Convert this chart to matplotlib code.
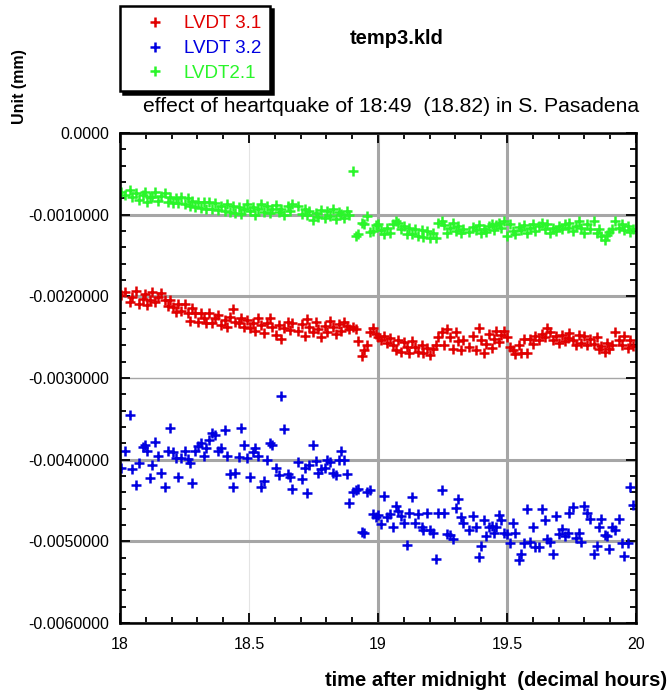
import matplotlib
matplotlib.use("Agg")
import matplotlib.pyplot as plt
from matplotlib.ticker import FuncFormatter, MultipleLocator

plt.rcParams['font.family'] = ['Liberation Sans', 'DejaVu Sans']

# sample times (decimal hours after midnight)
hours = [18.005, 18.021, 18.038, 18.047, 18.063, 18.072, 18.089, 18.096, 18.106, 18.115,
         18.125, 18.137, 18.147, 18.160, 18.173, 18.186, 18.192, 18.205, 18.218, 18.225,
         18.238, 18.251, 18.264, 18.270, 18.279, 18.292, 18.302, 18.313, 18.326, 18.335,
         18.344, 18.357, 18.370, 18.380, 18.393, 18.406, 18.416, 18.425, 18.438, 18.447,
         18.461, 18.470, 18.481, 18.494, 18.504, 18.516, 18.525, 18.535, 18.548, 18.558,
         18.571, 18.580, 18.589, 18.606, 18.615, 18.625, 18.636, 18.651, 18.658, 18.667,
         18.691, 18.704, 18.717, 18.726, 18.734, 18.747, 18.760, 18.769, 18.778, 18.795,
         18.804, 18.814, 18.824, 18.837, 18.850, 18.857, 18.868, 18.879, 18.889, 18.902,
         18.915, 18.924, 18.937, 18.946, 18.959, 18.969, 18.979, 18.992, 19.001, 19.010,
         19.023, 19.036, 19.047, 19.057, 19.070, 19.079, 19.088, 19.101, 19.111, 19.121,
         19.133, 19.143, 19.156, 19.169, 19.176, 19.189, 19.202, 19.214, 19.225, 19.234,
         19.247, 19.256, 19.269, 19.279, 19.292, 19.302, 19.311, 19.320, 19.331, 19.354,
         19.367, 19.380, 19.390, 19.400, 19.410, 19.419, 19.429, 19.442, 19.448, 19.457,
         19.468, 19.478, 19.487, 19.500, 19.513, 19.522, 19.532, 19.545, 19.556, 19.565,
         19.578, 19.590, 19.600, 19.610, 19.625, 19.636, 19.646, 19.655, 19.668, 19.677,
         19.690, 19.700, 19.713, 19.723, 19.736, 19.742, 19.754, 19.767, 19.778, 19.788,
         19.797, 19.810, 19.823, 19.836, 19.849, 19.855, 19.866, 19.879, 19.888, 19.897,
         19.907, 19.920, 19.933, 19.946, 19.955, 19.968, 19.978, 19.987]

# readings in units of 1e-4 mm
lvdt_31 = [-19.9, -19.5, -20.7, -20.1, -19.3, -20.9, -20.3, -19.7, -21.1, -20.5,
           -19.5, -20.7, -20.1, -19.6, -20.4, -21.2, -20.5, -21.3, -21.9, -20.9,
           -21.8, -21.0, -22.0, -23.0, -21.4, -22.1, -23.2, -22.0, -22.7, -23.3,
           -22.1, -23.3, -22.7, -22.3, -23.5, -22.9, -23.7, -22.5, -21.6, -23.1,
           -23.3, -22.7, -23.7, -22.9, -23.9, -23.3, -24.3, -22.7, -23.5, -24.5,
           -23.3, -22.7, -23.7, -24.7, -23.5, -25.2, -23.9, -23.1, -24.1, -23.3,
           -24.2, -23.4, -24.8, -22.8, -23.8, -24.4, -23.2, -24.0, -25.0, -23.6,
           -24.4, -23.0, -23.8, -24.6, -23.4, -24.2, -23.2, -23.6, -24.0, -23.8,
           -24.0, -25.5, -27.3, -26.6, -25.9, -24.4, -23.9, -24.6, -25.0, -25.4,
           -24.9, -25.7, -25.1, -26.0, -26.6, -25.4, -26.8, -25.6, -26.2, -27.0,
           -25.5, -26.2, -26.8, -25.9, -26.9, -26.3, -27.2, -26.5, -25.9, -25.0,
           -24.4, -25.9, -24.0, -25.0, -26.4, -24.4, -25.5, -26.6, -25.3, -26.2,
           -24.8, -26.6, -23.9, -25.4, -27.0, -25.8, -24.6, -26.3, -25.2, -24.3,
           -25.6, -24.7, -24.2, -25.0, -26.2, -26.6, -27.1, -26.0, -26.9, -25.2,
           -27.0, -25.2, -25.8, -24.8, -25.4, -24.6, -25.0, -23.9, -24.4, -25.3,
           -24.9, -25.7, -24.7, -25.5, -25.1, -24.5, -25.3, -25.9, -24.7, -25.7,
           -24.8, -26.0, -25.2, -25.8, -25.0, -26.5, -26.1, -26.8, -25.7, -26.4,
           -26.0, -24.4, -25.3, -25.9, -24.9, -26.3, -25.3, -26.1]

lvdt_32 = [-41.0, -38.9, -34.5, -41.1, -43.1, -40.4, -38.4, -38.2, -39.0, -42.3,
           -40.6, -37.8, -39.5, -41.6, -43.4, -39.0, -36.1, -39.1, -39.8, -42.1,
           -39.8, -38.9, -39.9, -40.4, -42.9, -38.9, -38.3, -38.0, -39.5, -38.6,
           -37.6, -36.7, -37.0, -38.9, -38.6, -36.4, -39.5, -41.7, -43.3, -41.6,
           -39.7, -36.1, -38.2, -39.8, -42.1, -39.1, -38.6, -39.5, -43.3, -42.6,
           -40.1, -37.9, -38.2, -41.0, -41.9, -32.2, -36.3, -41.7, -42.1, -43.6,
           -40.3, -42.4, -41.0, -44.1, -40.7, -38.2, -40.2, -41.6, -41.2, -41.0,
           -40.1, -40.3, -41.6, -41.9, -40.1, -38.9, -40.1, -41.7, -45.3, -43.9,
           -43.7, -43.6, -48.8, -49.0, -43.9, -43.7, -46.7, -47.0, -46.8, -47.9,
           -44.4, -47.0, -46.6, -48.2, -45.7, -46.3, -46.9, -47.7, -50.5, -46.5,
           -44.6, -47.7, -46.7, -48.2, -48.6, -46.5, -48.6, -49.0, -52.2, -46.5,
           -43.7, -46.5, -49.1, -49.2, -49.7, -45.9, -44.8, -47.0, -47.8, -48.6,
           -46.9, -48.2, -51.9, -50.6, -47.4, -49.4, -48.2, -48.1, -49.0, -48.2,
           -46.8, -47.4, -49.0, -49.1, -50.2, -47.8, -49.0, -52.3, -51.6, -50.2,
           -46.0, -50.1, -48.2, -50.7, -50.7, -46.0, -47.4, -49.7, -50.1, -51.5,
           -46.9, -49.1, -48.5, -49.4, -49.0, -46.5, -45.8, -49.6, -49.0, -50.1,
           -45.7, -46.5, -47.3, -51.5, -50.6, -48.2, -47.3, -49.2, -49.4, -50.9,
           -48.2, -48.6, -47.3, -50.2, -51.8, -50.2, -43.3, -45.5]

lvdt_21 = [-7.2, -7.6, -7.0, -7.8, -7.4, -8.2, -7.6, -7.2, -8.4, -7.8,
           -7.9, -7.2, -8.3, -7.7, -7.4, -8.5, -7.9, -8.6, -8.0, -8.6,
           -7.9, -8.7, -8.0, -9.0, -8.3, -9.1, -8.4, -9.2, -8.5, -9.3,
           -8.5, -9.3, -8.6, -9.4, -9.0, -9.6, -8.7, -9.7, -9.0, -9.8,
           -9.1, -9.9, -9.3, -8.7, -9.5, -9.1, -10.1, -9.3, -8.7, -9.7,
           -9.0, -9.8, -9.3, -8.8, -9.7, -9.3, -10.1, -9.0, -9.5, -8.7,
           -9.0, -9.9, -9.3, -10.1, -9.5, -10.6, -9.8, -10.3, -9.4, -10.4,
           -9.5, -10.2, -9.3, -10.5, -9.7, -9.9, -10.4, -9.5, -10.1, -4.7,
           -12.6, -12.4, -11.0, -11.1, -10.2, -12.1, -12.0, -11.3, -11.2, -11.9,
           -12.4, -11.6, -12.2, -11.2, -10.8, -11.0, -11.8, -11.4, -12.4, -11.6,
           -12.4, -11.7, -12.6, -11.9, -12.7, -12.0, -12.8, -12.3, -12.9, -11.0,
           -10.8, -11.3, -12.2, -11.6, -11.0, -12.0, -11.4, -12.3, -11.7, -12.1,
           -11.5, -11.9, -11.3, -12.3, -11.7, -12.1, -11.4, -11.1, -11.9, -11.3,
           -11.0, -11.6, -10.8, -12.6, -11.2, -12.0, -12.4, -11.5, -11.9, -11.3,
           -12.2, -11.6, -11.2, -12.0, -11.4, -11.0, -11.8, -11.2, -12.2, -11.6,
           -12.0, -11.4, -11.8, -11.2, -11.6, -11.0, -12.0, -11.4, -10.8, -11.6,
           -12.2, -11.2, -11.8, -10.8, -12.3, -11.8, -12.6, -13.1, -12.5, -12.1,
           -11.7, -10.8, -11.6, -11.1, -11.9, -11.4, -12.1, -11.7]

labels = ["LVDT 3.1", "LVDT 3.2", "LVDT2.1"]
colors = ["#e00000", "#0000e0", "#2af52a"]

fig = plt.figure(figsize=(6.68, 6.94), dpi=100)
ax = fig.add_axes([0.1796, 0.1023, 0.7725, 0.7061])

for vals, lab, col in zip([lvdt_31, lvdt_32, lvdt_21], labels, colors):
    ax.plot(hours, [v * 1e-4 for v in vals], linestyle="none", marker="+",
            markersize=6.5, markeredgewidth=1.8, color=col, label=lab)

ax.set_xlim(18, 20)
ax.set_ylim(-0.006, 0)
ax.xaxis.set_major_locator(MultipleLocator(0.5))
ax.xaxis.set_minor_locator(MultipleLocator(0.1))
ax.yaxis.set_major_locator(MultipleLocator(0.001))
ax.yaxis.set_minor_locator(MultipleLocator(0.0002))
ax.xaxis.set_major_formatter(FuncFormatter(lambda v, p: f"{v:g}"))
ax.yaxis.set_major_formatter(FuncFormatter(
    lambda v, p: "0.0000" if abs(v) < 1e-12 else f"{v:.7f}"))

ax.tick_params(which="both", direction="in", top=True, right=True,
               width=1.3, colors="black", labelsize=11.5)
ax.tick_params(which="major", length=7)
ax.tick_params(which="minor", length=4)
ax.tick_params(axis="x", pad=10)
ax.tick_params(axis="y", pad=8)

ax.set_axisbelow(True)
ax.grid(True, which="major", color="#a6a6a6", linewidth=2.2)
for line, v in zip(ax.get_ygridlines(), ax.get_yticks()):
    if abs(v + 0.003) < 1e-9:
        line.set_linewidth(1.0)
for line, v in zip(ax.get_xgridlines(), ax.get_xticks()):
    if abs(v - 18.5) < 1e-9:
        line.set_color("#e4e4e4")
        line.set_linewidth(0.8)

for sp in ax.spines.values():
    sp.set_linewidth(1.8)
    sp.set_color("black")

leg = fig.legend(loc="upper left", bbox_to_anchor=(0.1796, 0.9914),
                 frameon=True, fancybox=False, edgecolor="black", framealpha=1,
                 shadow={"color": "black", "alpha": 1}, fontsize=13.5,
                 handlelength=2.7, handletextpad=0.2, borderpad=0.5,
                 labelspacing=0.4, borderaxespad=0)
leg.get_frame().set_linewidth(1.8)
for text, col in zip(leg.get_texts(), colors):
    text.set_color(col)

fig.text(397 / 668, 1 - 39 / 694, "temp3.kld", ha="center", va="center",
         fontweight="bold", fontsize=14.5)
fig.text(639 / 668, 1 - 106 / 694,
         "effect of heartquake of 18:49  (18.82) in S. Pasadena",
         ha="right", va="center", fontsize=15.2)
fig.text(20 / 668, 1 - 87 / 694, "Unit (mm)", rotation=90, ha="center",
         va="center", fontweight="bold", fontsize=11.5)
fig.text(667 / 668, 1 - 680 / 694, "time after midnight  (decimal hours)",
         ha="right", va="center", fontweight="bold", fontsize=14.5)

fig.savefig("out.png", dpi=100)
